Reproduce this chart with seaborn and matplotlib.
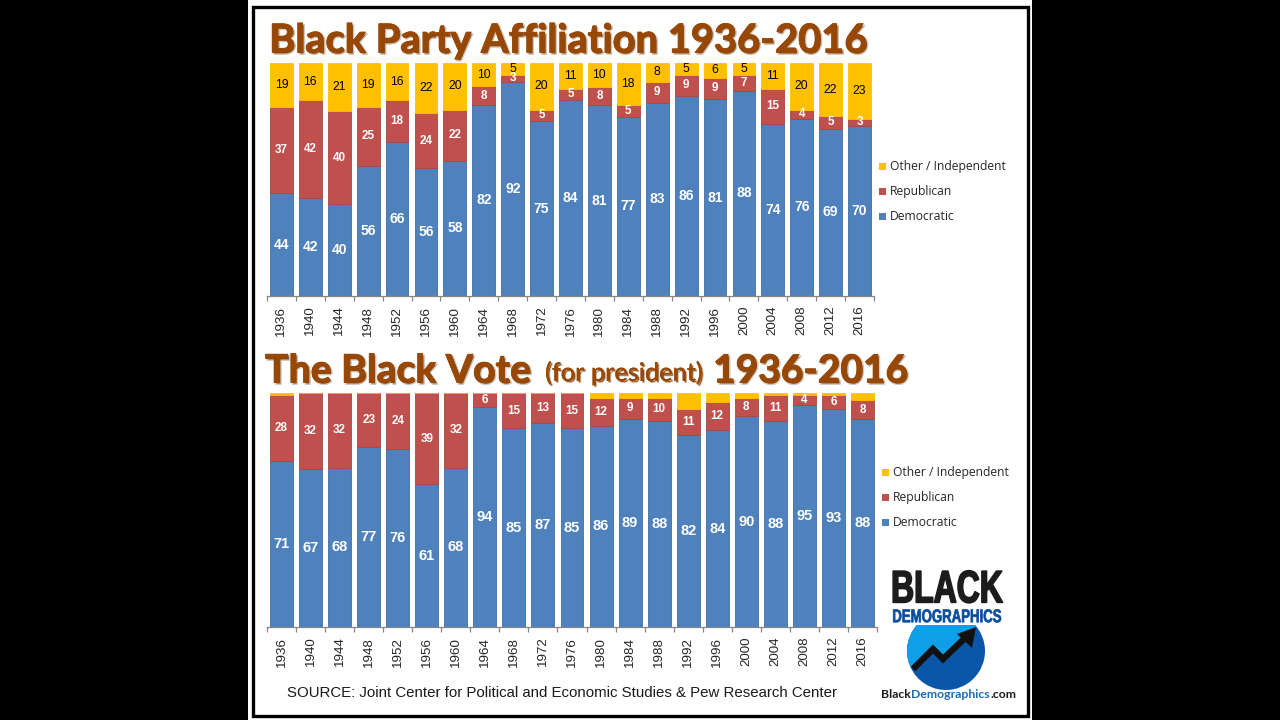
import matplotlib
matplotlib.use("Agg")
import matplotlib.pyplot as plt
import matplotlib.patheffects as pe
from matplotlib.patches import Rectangle, Circle, Polygon
from matplotlib.transforms import Affine2D
import pandas as pd
import seaborn as sns

years = [1936, 1940, 1944, 1948, 1952, 1956, 1960, 1964, 1968, 1972, 1976,
         1980, 1984, 1988, 1992, 1996, 2000, 2004, 2008, 2012, 2016]

# party affiliation
aff_dem = [44, 42, 40, 56, 66, 56, 58, 82, 92, 75, 84, 81, 77, 83, 86, 81, 88, 74, 76, 69, 70]
aff_rep = [37, 42, 40, 25, 18, 24, 22, 8, 3, 5, 5, 8, 5, 9, 9, 9, 7, 15, 4, 5, 3]
aff_oth = [19, 16, 21, 19, 16, 22, 20, 10, 5, 20, 11, 10, 18, 8, 5, 6, 5, 11, 20, 22, 23]

# presidential vote, other has no printed labels so those are estimates
vote_dem = [71, 67, 68, 77, 76, 61, 68, 94, 85, 87, 85, 86, 89, 88, 82, 84, 90, 88, 95, 93, 88]
vote_rep = [28, 32, 32, 23, 24, 39, 32, 6, 15, 13, 15, 12, 9, 10, 11, 12, 8, 11, 4, 6, 8]
vote_oth = [1, 0, 0, 0, 0, 0, 0, 0, 0, 0, 0, 2, 2, 2, 7, 4, 2, 1, 1, 1, 3]

BLUE = "#4F81BD"
RED = "#C0504D"
GOLD = "#FFC000"
TITLE = "#974706"
W, H = 1280, 720


class TallStroke(pe.Stroke):
    """Stretches text vertically about a pixel row, no narrow font is installed for the logo."""

    def __init__(self, y_px, factor, **kwargs):
        super().__init__(**kwargs)
        self.y_px = H - y_px
        self.factor = factor

    def _offset_transform(self, renderer):
        return Affine2D().translate(0, -self.y_px).scale(1, self.factor).translate(0, self.y_px)


def px_axes(fig, left, top, right, bottom):
    return fig.add_axes([left / W, 1 - bottom / H, (right - left) / W, (bottom - top) / H])


def stacked_panel(ax, dem, rep, oth, show_other_labels, big_size):
    df = pd.DataFrame({"year": years, "dem": dem, "rep": rep, "oth": oth})
    total = df[["dem", "rep", "oth"]].sum(axis=1)
    share_dem = df["dem"] / total
    share_rep = df["rep"] / total
    share_oth = df["oth"] / total

    layers = [
        (share_dem, 0, BLUE, "#3F6FA8", df["dem"], "white", big_size),
        (share_rep, share_dem, RED, "#A94542", df["rep"], "white", 8.4),
        (share_oth, share_dem + share_rep, GOLD, GOLD, df["oth"], "black", 8.8),
    ]
    for share, base, color, edge, raw, txt, size in layers:
        before = len(ax.containers)
        sns.barplot(x=df["year"].astype(str), y=share, bottom=base, color=color, width=0.79,
                    saturation=1, edgecolor=edge, linewidth=0.6, ax=ax)
        if txt == "black" and not show_other_labels:
            continue
        labels = [str(v) if v > 0 else "" for v in raw]
        for bars in ax.containers[before:]:
            ax.bar_label(bars, labels=labels, label_type="center", color=txt, fontsize=size,
                         fontweight="normal" if txt == "black" else "bold",
                         family="Liberation Sans")

    ax.set_xlim(-0.5, 20.5)
    ax.set_ylim(0, 1)
    ax.set_xlabel("")
    ax.set_ylabel("")
    ax.set_yticks([])
    ax.tick_params(axis="x", length=0, pad=7, labelsize=9.6, labelrotation=90, colors="#262626")
    ax.set_xticks([i - 0.5 for i in range(22)], minor=True)
    ax.tick_params(axis="x", which="minor", bottom=True, length=3.5, width=0.9, color="#868686",
                   direction="out")
    for name in ["top", "left", "right"]:
        ax.spines[name].set_visible(False)
    ax.spines["bottom"].set_color("#868686")
    ax.spines["bottom"].set_linewidth(0.9)
    ax.patch.set_alpha(0)
    for label in ax.get_xticklabels():
        label.set_family("Liberation Sans")


def legend_px(over, x, y):
    # top to bottom like the excel legend
    entries = [("Other / Independent", GOLD), ("Republican", RED), ("Democratic", BLUE)]
    for i, (name, color) in enumerate(entries):
        yy = y + i * 24.8
        over.add_patch(Rectangle((x, yy - 3.5), 7, 7, color=color, lw=0))
        over.text(x + 11, yy, name, fontsize=8.7, family="Open Sans", color="#262626", va="center")


def title_effects(width):
    return [pe.Stroke(linewidth=width + 0.4, foreground="#cfc6bc", offset=(1.2, -1.2)),
            pe.Stroke(linewidth=width, foreground=TITLE),
            pe.Normal()]


sns.set_theme(style="white")
fig = plt.figure(figsize=(W / 100, H / 100), dpi=100, facecolor="black")

# overlay in picture pixels for the frame, titles and logo
over = fig.add_axes([0, 0, 1, 1])
over.set_xlim(0, W)
over.set_ylim(H, 0)
over.axis("off")
over.add_patch(Rectangle((248, 0), 784, 720, color="white", lw=0))
over.add_patch(Rectangle((252.5, 6.5), 775, 709, fc="none", ec="black", lw=2.4))

t = over.text(269, 41, "Black Party Affiliation 1936-2016", fontsize=28.7, fontweight="bold",
              family="Lato", color=TITLE, va="center", ha="left")
t.set_path_effects(title_effects(0.6))
for x, txt, size in [(265, "The Black Vote", 28.2), (545, "(for president)", 18.3), (713, "1936-2016", 28)]:
    t = over.text(x, 371 if size > 20 else 373, txt, fontsize=size, fontweight="bold" if size > 20 else "normal",
                  family="Lato", color=TITLE, va="center", ha="left")
    t.set_path_effects(title_effects(0.6 if size > 20 else 0.2))

ax_top = px_axes(fig, 267, 63, 874, 296)
stacked_panel(ax_top, aff_dem, aff_rep, aff_oth, True, 10)
ax_bot = px_axes(fig, 267, 393, 877, 627)
stacked_panel(ax_bot, vote_dem, vote_rep, vote_oth, False, 10.5)

legend_px(over, 879, 166.5)
legend_px(over, 882, 472.5)

over.text(562, 693, "SOURCE: Joint Center for Political and Economic Studies & Pew Research Center",
          fontsize=10.85, family="Liberation Sans", color="#1a1a1a", ha="center", va="center")

# logo
disc = Circle((946, 651), 39, color="#0A56A8", lw=0)
over.add_patch(disc)
sky = Polygon([(900, 680), (912, 668), (933, 648), (943, 658), (976, 628), (976, 600), (900, 600)],
              color="#0E9FE8", lw=0)
over.add_patch(sky)
sky.set_clip_path(disc)
over.add_patch(Rectangle((890, 600), 115, 25, color="white", lw=0))
over.plot([913, 933, 943, 966], [669, 649, 659, 637], color="#111111", lw=4.6, solid_capstyle="butt",
          solid_joinstyle="miter")
over.add_patch(Polygon([(957, 634), (976, 627), (972, 648)], color="#111111", lw=0))

t = over.text(947, 591, "BLACK", fontsize=23, fontweight="bold", family="Liberation Sans",
              color="#1c1c1c", ha="center", va="center")
t.set_path_effects([TallStroke(591, 1.42, linewidth=1.2, foreground="#1c1c1c")])
t = over.text(947, 618, "DEMOGRAPHICS", fontsize=9.5, fontweight="bold", family="Liberation Sans",
              color="#0A4D9C", ha="center", va="center")
t.set_path_effects([TallStroke(618, 1.4, linewidth=0.5, foreground="#0A4D9C")])

# site name in three colours, each piece starts where the last one ends
renderer = fig.canvas.get_renderer()
x_pos = 881
for piece, col in [("Black", "#1a1a1a"), ("Demographics", "#1C6BB5"), (".com", "#1a1a1a")]:
    t = over.text(x_pos, 694, piece, fontsize=8.8, fontweight="bold", family="Lato", color=col, va="center")
    box = t.get_window_extent(renderer).transformed(over.transData.inverted())
    x_pos = box.x1 + 0.5

fig.savefig("out.png", dpi=100, facecolor="black")
